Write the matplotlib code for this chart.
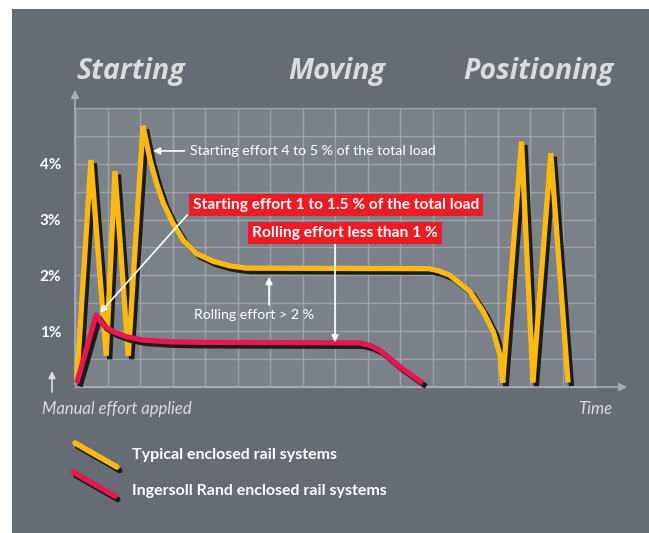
import matplotlib.pyplot as plt
import matplotlib.patheffects as pe
from matplotlib.patches import Rectangle
from matplotlib.lines import Line2D

plt.rcParams['font.family'] = ['Lato', 'DejaVu Sans']

# typical enclosed rail systems (yellow)
typ_x = [0.05, 0.49, 0.96, 1.23, 1.64, 2.09, 2.31, 2.51, 2.72, 3.02, 3.33, 3.74, 4.26,
         4.77, 5.28, 10.9, 11.2, 11.54, 12.15, 12.56, 12.87, 13.08, 13.16, 13.74, 14.09,
         14.64, 15.17]
typ_y = [0.08, 4.07, 0.56, 3.87, 0.56, 4.68, 4.07, 3.65, 3.29, 2.93, 2.63, 2.39, 2.25,
         2.17, 2.13, 2.12, 2.08, 2.0, 1.71, 1.35, 0.99, 0.57, 0.08, 4.4, 0.08,
         4.19, 0.08]

# Ingersoll Rand enclosed rail systems (red)
ir_x = [0.05, 0.65, 0.87, 1.18, 1.59, 2.1, 2.92, 3.85, 8.77, 9.1, 9.38, 10.0, 10.7]
ir_y = [0.07, 1.29, 1.11, 0.99, 0.9, 0.84, 0.81, 0.8, 0.79, 0.74, 0.66, 0.36, 0.07]

y_ticks = [1, 2, 3, 4]
y_labels = ['1%', '2%', '3%', '4%']
phases = ['Starting', 'Moving', 'Positioning']
legend_labels = ['Typical enclosed rail systems', 'Ingersoll Rand enclosed rail systems']

YELLOW = '#FDB913'
RED = '#E8184F'
BOXRED = '#ED1C24'
PANEL = '#656C74'
PLOTBG = '#7A8189'
GRID = '#9DA2A8'
LIGHT = '#D9DBDD'

W, H = 649, 533
fig = plt.figure(figsize=(W / 100, H / 100), dpi=100)
fig.patch.set_facecolor('white')

# background overlay in pixel coordinates
bg = fig.add_axes([0, 0, 1, 1], zorder=0)
bg.set_xlim(0, W)
bg.set_ylim(H, 0)
bg.axis('off')
bg.add_patch(Rectangle((12, 9), W - 12, H - 9, color=PANEL, lw=0))

ax = fig.add_axes([75 / W, (H - 387) / H, 520 / W, 279 / H], zorder=1)
ax.set_facecolor(PLOTBG)
ax.set_xlim(0, 16)
ax.set_ylim(0, 5)
ax.set_xticks(range(17))
ax.set_xticklabels([])
ax.set_yticks([i * 0.5 for i in range(11)], minor=True)
ax.set_yticks(y_ticks)
ax.set_yticklabels(y_labels, color='white', fontsize=11, fontweight='bold')
ax.tick_params(which='both', length=0, pad=10)
ax.grid(True, which='both', color=GRID, lw=1)
ax.set_axisbelow(True)
for s in ax.spines.values():
    s.set_color(GRID)
    s.set_linewidth(1)

# axis arrows
arr = dict(arrowstyle='-|>', color='#A9ADB2', lw=1.2, mutation_scale=12)
ax.annotate('', xy=(630 / W, (H - 387) / H), xytext=(75 / W, (H - 387) / H),
            xycoords='figure fraction', textcoords='figure fraction', arrowprops=arr)
ax.annotate('', xy=(75 / W, (H - 87) / H), xytext=(75 / W, (H - 387) / H),
            xycoords='figure fraction', textcoords='figure fraction', arrowprops=arr)

shadow = [pe.SimpleLineShadow(offset=(2.5, -2.5), shadow_color='#1c1c1c', alpha=1), pe.Normal()]
ax.plot(typ_x, typ_y, color=YELLOW, lw=3.8, solid_joinstyle='bevel', solid_capstyle='butt',
        path_effects=shadow, zorder=3, clip_on=False)
ax.plot(ir_x, ir_y, color=RED, lw=3.8, solid_joinstyle='round', solid_capstyle='butt',
        path_effects=shadow, zorder=4, clip_on=False)

# annotations
warr = dict(arrowstyle='-|>', color='white', lw=1.2, mutation_scale=10, shrinkA=0, shrinkB=0)
ax.annotate('Starting effort 4 to 5 % of the total load', xy=(2.4, 4.23), xytext=(3.54, 4.23),
            color='white', fontsize=10.2, va='center', ha='left', zorder=6,
            arrowprops=dict(warr, shrinkA=2))
ax.annotate('', xy=(0.77, 1.33), xytext=(3.45, 3.08), arrowprops=warr, zorder=6)
ax.text(8.02, 3.26, 'Starting effort 1 to 1.5 % of the total load', color='white',
        fontsize=11.2, fontweight='bold', ha='center', va='center', zorder=7,
        bbox=dict(boxstyle='square,pad=0.25', fc=BOXRED, ec='none'))
ax.annotate('', xy=(8.0, 0.8), xytext=(8.0, 2.58), arrowprops=warr, zorder=6)
ax.text(8.31, 2.76, 'Rolling effort less than 1 %', color='white',
        fontsize=11.2, fontweight='bold', ha='center', va='center', zorder=7,
        bbox=dict(boxstyle='square,pad=0.25', fc=BOXRED, ec='none'))
ax.annotate('', xy=(5.97, 1.97), xytext=(5.97, 1.47), arrowprops=warr, zorder=6)
ax.text(5.51, 1.29, 'Rolling effort > 2 %', color='white', fontsize=10.2,
        ha='center', va='center', zorder=6)

# phase titles
for label, x in zip(phases, [76, 288, 463]):
    bg.text(x, 71, label, color=LIGHT, fontsize=20.5, fontweight='bold', fontstyle='italic',
            family=['Open Sans', 'DejaVu Sans'], ha='left', va='center')

bg.text(42, 409, 'Manual effort applied', color=LIGHT, fontsize=12, fontstyle='italic',
        ha='left', va='center')
bg.text(612, 409, 'Time', color=LIGHT, fontsize=12, fontstyle='italic', ha='right', va='center')
bg.annotate('', xy=(52, 371), xytext=(52, 392), arrowprops=dict(warr, color=LIGHT))

# legend
for (x0, y0, x1, y1), c, lab, ty in zip([(75, 443, 117, 467), (73, 472, 115, 496)],
                                         [YELLOW, RED], legend_labels, [455, 491]):
    bg.add_line(Line2D([x0, x1], [y0, y1], color=c, lw=4, solid_capstyle='round',
                       path_effects=[pe.SimpleLineShadow(offset=(2, -2.5), shadow_color='#1c1c1c',
                                                         alpha=1), pe.Normal()]))
    bg.text(132, ty, lab, color='white', fontsize=11.5, fontweight='bold', ha='left', va='center')

fig.savefig('out.png', dpi=100, facecolor='white')
